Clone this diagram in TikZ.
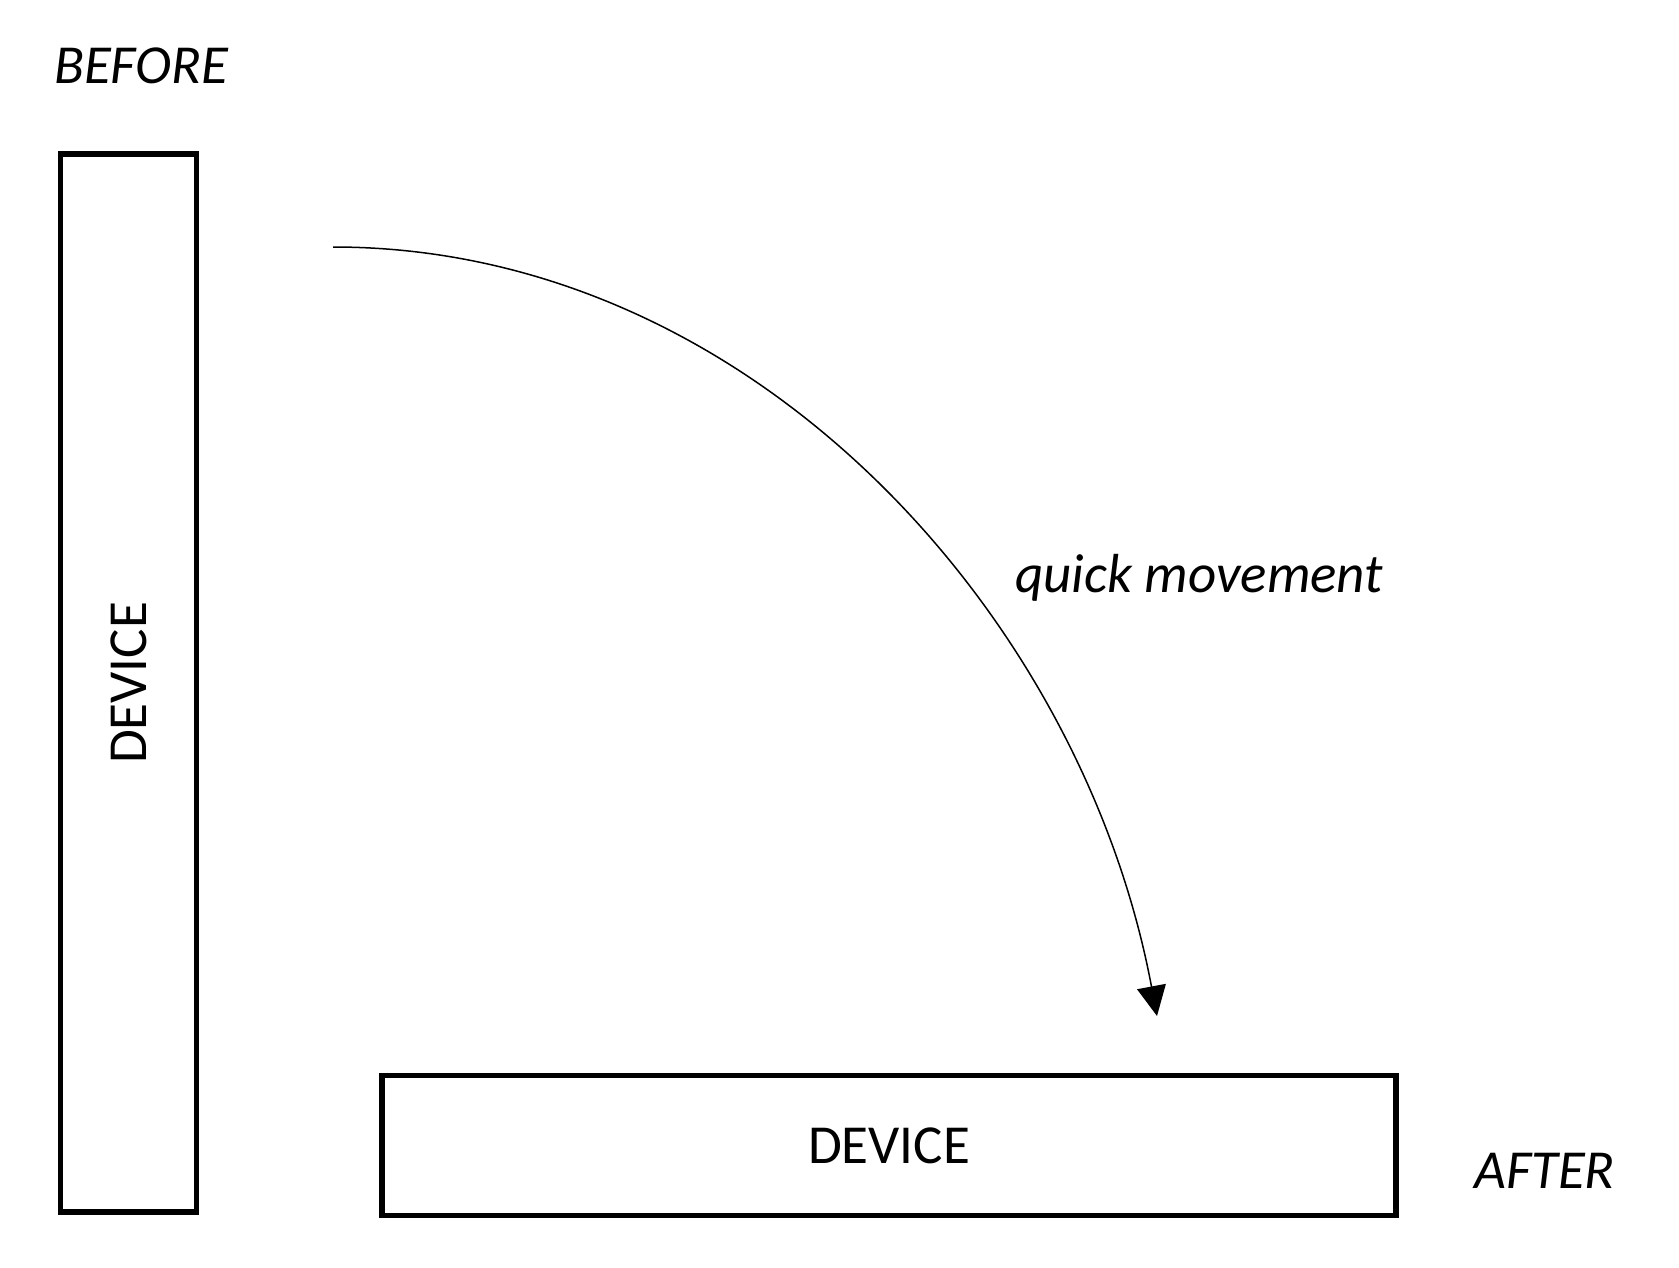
\documentclass[tikz,border=0pt]{standalone}
\usepackage{fontspec}
\setmainfont{Carlito}
\usepackage{tikz}
\usetikzlibrary{arrows.meta, calc}

\tikzset{
  device/.style={draw=black, line width=5.5pt, inner sep=0pt, font=\fontsize{55}{66}\selectfont},
  state/.style={inner sep=0pt, font=\fontsize{55}{66}\selectfont\itshape},
  move/.style={line width=1.5pt, -{Triangle[length=30pt, width=29pt]}}
}

\begin{document}
\begin{tikzpicture}[x=1pt, y=-1pt]

	\useasboundingbox (0,0) rectangle (1679,1267);

	\node[device, rotate=90, minimum width=1058pt, minimum height=136pt] (old) at (128.5,683) {DEVICE};
	\node[device, minimum width=1014pt, minimum height=140pt] (new) at (889,1145.5) {DEVICE};

	\node[state, anchor=base west] (before) at (54,83) {BEFORE};
	\node[state, anchor=base west] (after) at (1474,1188) {AFTER};
	\node[state, anchor=base west] (label) at (1015,592) {quick movement};

	\coordinate (S) at (333,247);
	\coordinate (T) at (1157,1016);

	\draw[move] (S) .. controls ($(S)+(420,0)$) and ($(T)+(-75,-400)$) .. (T);

\end{tikzpicture}
\end{document}
